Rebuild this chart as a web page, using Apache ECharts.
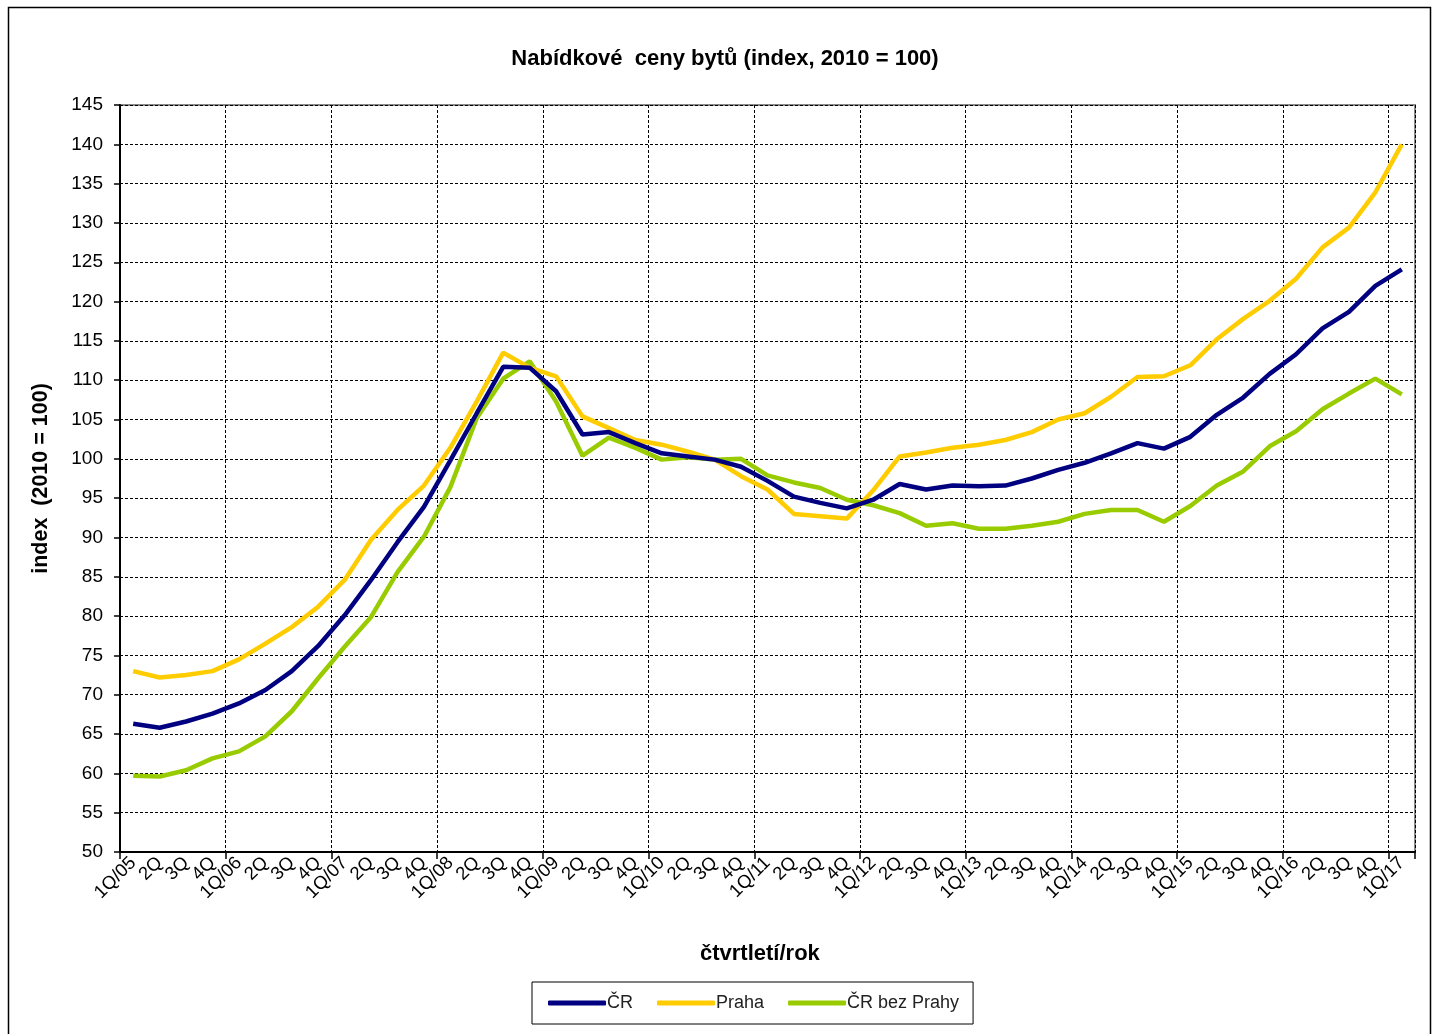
<!DOCTYPE html>
<html>
<head>
<meta charset="utf-8">
<script src="https://cdn.jsdelivr.net/npm/echarts@6/dist/echarts.min.js"></script>
<style>
html,body{margin:0;padding:0;background:#fff;}
#c{width:1439px;height:1034px;}
</style>
</head>
<body>
<div id="c"></div>
<script>
const categories = [
 '1Q/05','2Q','3Q','4Q','1Q/06','2Q','3Q','4Q','1Q/07','2Q','3Q','4Q',
 '1Q/08','2Q','3Q','4Q','1Q/09','2Q','3Q','4Q','1Q/10','2Q','3Q','4Q',
 '1Q/11','2Q','3Q','4Q','1Q/12','2Q','3Q','4Q','1Q/13','2Q','3Q','4Q',
 '1Q/14','2Q','3Q','4Q','1Q/15','2Q','3Q','4Q','1Q/16','2Q','3Q','4Q','1Q/17'
];
const cr = [
 66.3,65.8,66.6,67.6,68.9,70.6,73.0,76.2,80.1,84.6,89.4,93.9,
 99.8,105.8,111.7,111.6,108.6,103.1,103.4,102.0,100.7,100.3,99.9,99.0,
 97.2,95.2,94.4,93.7,94.8,96.8,96.1,96.6,96.5,96.6,97.5,98.6,
 99.5,100.7,102.0,101.3,102.8,105.6,107.8,110.8,113.3,116.6,118.7,122.0,124.1
];
const praha = [
 73.0,72.2,72.5,73.0,74.5,76.5,78.6,81.2,84.6,89.7,93.5,96.6,
 101.4,107.3,113.5,111.6,110.5,105.4,103.9,102.4,101.8,100.9,99.9,97.8,
 96.1,93.0,92.7,92.4,96.0,100.3,100.8,101.4,101.8,102.4,103.4,105.0,
 105.8,107.9,110.4,110.5,111.9,115.2,117.8,120.1,122.9,126.9,129.4,133.9,140.0
];
const crBezPrahy = [
 59.7,59.6,60.4,61.9,62.8,64.7,67.9,72.1,76.1,79.9,85.6,90.1,
 96.4,105.2,110.2,112.4,107.3,100.4,102.7,101.4,99.9,100.2,99.9,100.0,
 97.9,97.0,96.3,94.8,94.1,93.1,91.5,91.8,91.1,91.1,91.5,92.0,
 93.0,93.5,93.5,92.0,94.0,96.6,98.4,101.6,103.5,106.3,108.3,110.2,108.2
];
const seriesNames = ['ČR','Praha','ČR bez Prahy'];
const seriesColors = ['#000080','#FFCC00','#99CC00'];

const FONT = 'Liberation Sans, Arial, sans-serif';
const chart = echarts.init(document.getElementById('c'), null, {renderer:'canvas'});
const dataSets = [cr, praha, crBezPrahy];

chart.setOption({
  backgroundColor:'#fff',
  animation:false,
  textStyle:{fontFamily:FONT},
  title:{
    text:'Nabídkové  ceny bytů (index, 2010 = 100)',
    left:720, top:43, textAlign:'center',
    textStyle:{fontFamily:FONT,fontSize:22,fontWeight:'bold',color:'#000'}
  },
  graphic:[{
    type:'rect', silent:true, z:-1,
    shape:{x:8.5,y:7.5,width:1422,height:1060},
    style:{fill:'none',stroke:'#000',lineWidth:1.5}
  },{
    type:'text', left:700, top:943,
    style:{text:'čtvrtletí/rok', font:'bold 22px '+FONT, fill:'#000'}
  }],
  legend:{
    left:532, top:982,
    data:seriesNames,
    icon:'roundRect',
    itemWidth:58, itemHeight:5,
    itemGap:24,
    padding:[12,14,12,16],
    borderColor:'#000', borderWidth:1,
    textStyle:{fontFamily:FONT,fontSize:18,color:'#222',padding:[0,0,0,-4]}
  },
  grid:{
    left:120, right:24, top:105, bottom:182,
    show:true, borderColor:'#888', borderWidth:2
  },
  xAxis:{
    type:'category',
    data:categories,
    boundaryGap:true,
    axisLine:{lineStyle:{color:'#000',width:2}},
    axisTick:{show:true,interval:3,length:7,lineStyle:{color:'#000',width:1.5}},
    splitLine:{show:true,interval:3,lineStyle:{color:'#000',type:[3,2],width:1}},
    axisLabel:{interval:0,rotate:45,fontSize:18.5,color:'#000',margin:8,fontFamily:FONT}
  },
  yAxis:{
    type:'value',
    min:50,max:145,interval:5,
    name:'index  (2010 = 100)',
    nameLocation:'middle',
    nameGap:68,
    nameRotate:90,
    nameTextStyle:{fontFamily:FONT,fontSize:21.5,fontWeight:'bold',color:'#000'},
    axisLine:{show:true,lineStyle:{color:'#000',width:2}},
    axisTick:{show:true,length:6,lineStyle:{color:'#000',width:1.5}},
    splitLine:{show:true,lineStyle:{color:'#000',type:[3,2],width:1}},
    axisLabel:{fontSize:19,color:'#000',margin:17,fontFamily:FONT}
  },
  series:seriesNames.map((n,i)=>({
    name:n, type:'line', data:dataSets[i],
    symbol:'none', smooth:false,
    lineStyle:{color:seriesColors[i],width:4.5},
    itemStyle:{color:seriesColors[i]},
    z:3-i
  }))
});
</script>
</body>
</html>
